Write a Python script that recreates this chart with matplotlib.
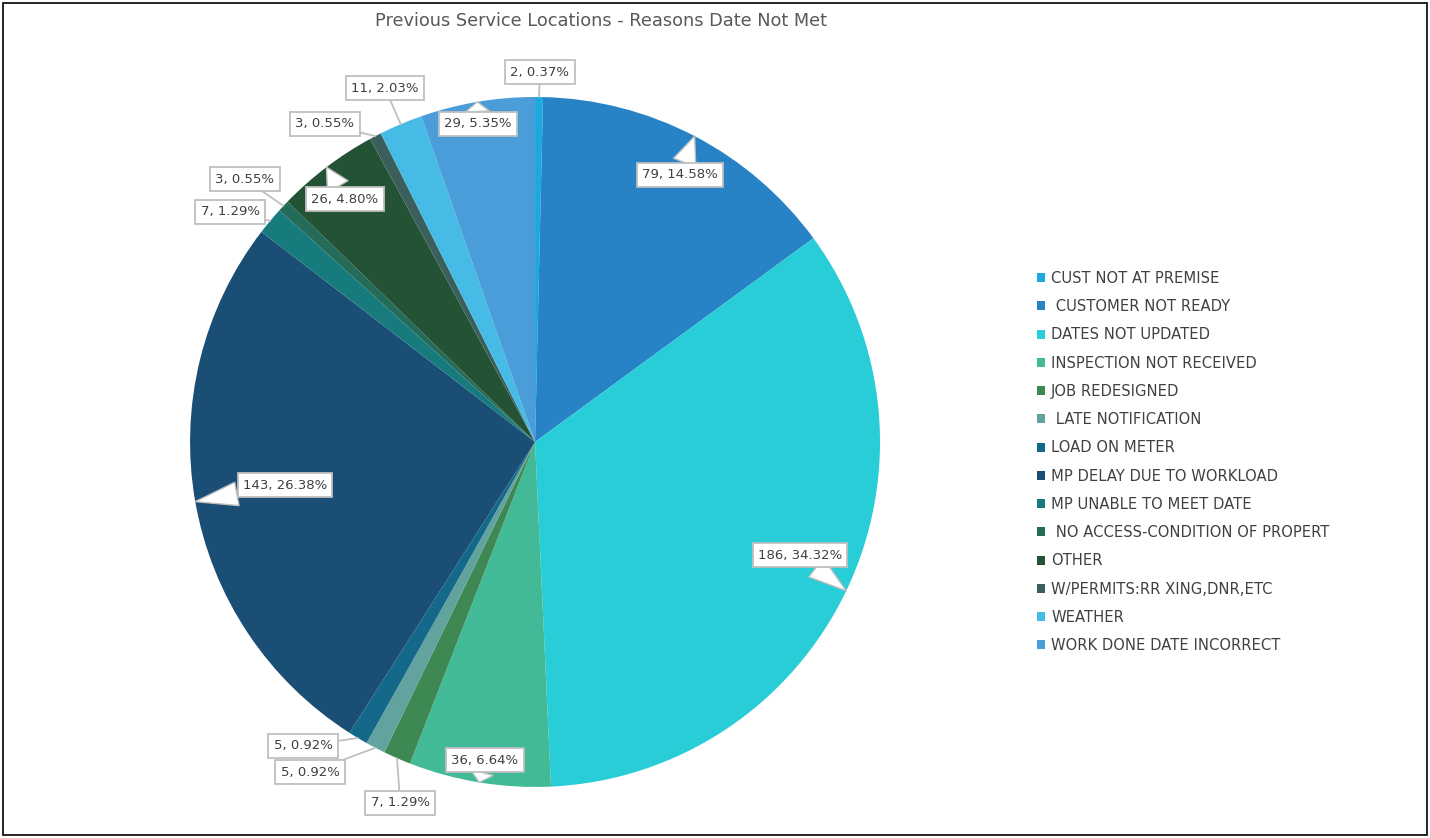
import numpy as np
import matplotlib
matplotlib.use("Agg")
import matplotlib.pyplot as plt
from matplotlib.patches import Patch, Rectangle

# data
reasons = ["CUST NOT AT PREMISE", " CUSTOMER NOT READY", "DATES NOT UPDATED",
           "INSPECTION NOT RECEIVED", "JOB REDESIGNED", " LATE NOTIFICATION",
           "LOAD ON METER", "MP DELAY DUE TO WORKLOAD", "MP UNABLE TO MEET DATE",
           " NO ACCESS-CONDITION OF PROPERT", "OTHER", "W/PERMITS:RR XING,DNR,ETC",
           "WEATHER", "WORK DONE DATE INCORRECT"]
counts = [2, 79, 186, 36, 7, 5, 5, 143, 7, 3, 26, 3, 11, 29]

colors = ["#1BA9E0", "#2783C6", "#29CDD7", "#42BA97", "#3E8853", "#62A39F",
          "#14698A", "#1A4E74", "#177B7E", "#246B5A", "#245235", "#3A5F5D",
          "#46BBE6", "#4B9DD9"]

# where each data label box sits (axes data units, pie radius = 1)
label_pos = [(0.014, 1.072), (0.42, 0.774), (0.768, -0.328), (-0.145, -0.922),
             (-0.391, -1.046), (-0.652, -0.957), (-0.672, -0.881), (-0.725, -0.125),
             (-0.884, 0.667), (-0.841, 0.762), (-0.551, 0.704), (-0.609, 0.922),
             (-0.435, 1.026), (-0.165, 0.922)]
# callouts inside the pie get a wedge pointer, the rest a leader line
inside = [False, True, True, True, False, False, False, True,
          False, False, True, False, False, True]

fig = plt.figure(figsize=(14.3, 8.38), dpi=100)
ax = fig.add_axes([0.1329, 0.0609, 0.4825, 0.8234])

wedges, _ = ax.pie(counts, colors=colors, startangle=90, counterclock=False,
                   radius=1.0, wedgeprops=dict(linewidth=0))
ax.set_xlim(-1, 1)
ax.set_ylim(-1, 1)
ax.set_aspect("equal")
ax.axis("off")

total = sum(counts)
for w, n, pos, ins in zip(wedges, counts, label_pos, inside):
    mid = np.deg2rad((w.theta1 + w.theta2) / 2)
    tip = (np.cos(mid), np.sin(mid))
    txt = f"{n}, {n / total * 100:.2f}%"
    if ins:
        arrow = dict(arrowstyle="wedge,tail_width=1.8,shrink_factor=0.5",
                     fc="white", ec="#bfbfbf", lw=1, shrinkA=0, shrinkB=0)
    else:
        arrow = dict(arrowstyle="-", color="#bfbfbf", lw=1.3, shrinkA=0, shrinkB=0)
    ax.annotate(txt, xy=tip, xytext=pos, ha="center", va="center",
                fontsize=9.5, color="#404040", annotation_clip=False,
                bbox=dict(boxstyle="square,pad=0.4", fc="white", ec="#bfbfbf", lw=1.3),
                arrowprops=arrow)

fig.text(0.42, 0.975, "Previous Service Locations - Reasons Date Not Met",
         ha="center", va="center", fontsize=12.8, color="#595959")

handles = [Patch(facecolor=c, edgecolor="none") for c in colors]
fig.legend(handles, reasons, loc="center left", bbox_to_anchor=(0.716, 0.4487),
           frameon=False, fontsize=10.6, labelcolor="#404040",
           handlelength=0.55, handleheight=0.55, handletextpad=0.4,
           labelspacing=0.9)

fig.patches.append(Rectangle((0.002, 0.003), 0.996, 0.994, transform=fig.transFigure,
                             fill=False, ec="black", lw=1.2))

fig.savefig("out.png", dpi=100)
